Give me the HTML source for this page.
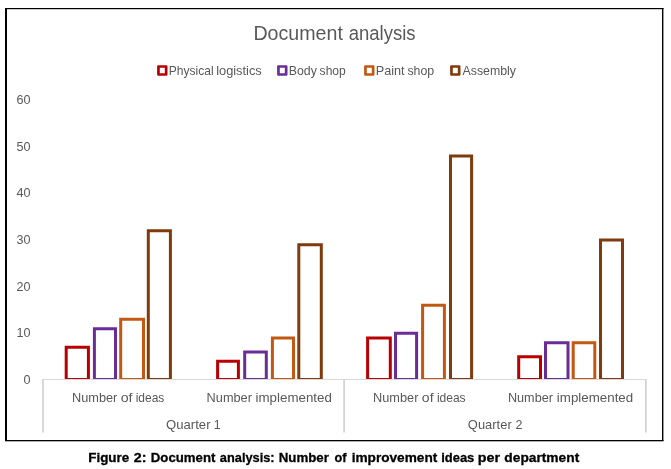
<!DOCTYPE html>
<html><head><meta charset="utf-8"><style>
html,body{margin:0;padding:0;background:#fff;width:671px;height:469px;overflow:hidden}
svg{display:block;will-change:transform;font-family:"Liberation Sans",sans-serif}
</style></head><body>
<svg width="671" height="469" viewBox="0 0 671 469">
<rect x="0" y="0" width="671" height="469" fill="#fff"/>
<!-- frame -->
<rect x="5" y="8" width="2" height="433" fill="#000"/>
<rect x="5" y="8" width="658.5" height="1.2" fill="#000"/>
<rect x="662" y="8" width="1.4" height="433" fill="#000"/>
<rect x="5" y="440" width="658.5" height="1.3" fill="#000"/>
<!-- bars -->
<path fill="#B80000" fill-rule="evenodd" d="M64.70,345.85H89.90V379.0H64.70Z M67.70,348.85V378.0H86.90V348.85Z"/>
<path fill="#6A2D98" fill-rule="evenodd" d="M92.90,327.18H117.00V379.0H92.90Z M95.90,330.18V378.0H114.00V330.18Z"/>
<path fill="#C25811" fill-rule="evenodd" d="M119.20,317.84H145.00V379.0H119.20Z M122.20,320.84V378.0H142.00V320.84Z"/>
<path fill="#803A0C" fill-rule="evenodd" d="M146.80,229.13H171.90V379.0H146.80Z M149.80,232.13V378.0H168.90V232.13Z"/>
<path fill="#B80000" fill-rule="evenodd" d="M216.10,359.86H239.90V379.0H216.10Z M219.10,362.86V378.0H236.90V362.86Z"/>
<path fill="#6A2D98" fill-rule="evenodd" d="M243.20,350.52H267.80V379.0H243.20Z M246.20,353.52V378.0H264.80V353.52Z"/>
<path fill="#C25811" fill-rule="evenodd" d="M270.90,336.51H295.00V379.0H270.90Z M273.90,339.51V378.0H292.00V339.51Z"/>
<path fill="#803A0C" fill-rule="evenodd" d="M297.30,243.13H322.80V379.0H297.30Z M300.30,246.13V378.0H319.80V246.13Z"/>
<path fill="#B80000" fill-rule="evenodd" d="M366.10,336.51H391.80V379.0H366.10Z M369.10,339.51V378.0H388.80V339.51Z"/>
<path fill="#6A2D98" fill-rule="evenodd" d="M394.00,331.85H418.10V379.0H394.00Z M397.00,334.85V378.0H415.10V334.85Z"/>
<path fill="#C25811" fill-rule="evenodd" d="M421.10,303.83H445.90V379.0H421.10Z M424.10,306.83V378.0H442.90V306.83Z"/>
<path fill="#803A0C" fill-rule="evenodd" d="M449.00,154.42H473.10V379.0H449.00Z M452.00,157.42V378.0H470.10V157.42Z"/>
<path fill="#B80000" fill-rule="evenodd" d="M517.20,355.19H542.00V379.0H517.20Z M520.20,358.19V378.0H539.00V358.19Z"/>
<path fill="#6A2D98" fill-rule="evenodd" d="M544.00,341.18H569.50V379.0H544.00Z M547.00,344.18V378.0H566.50V344.18Z"/>
<path fill="#C25811" fill-rule="evenodd" d="M571.70,341.18H596.30V379.0H571.70Z M574.70,344.18V378.0H593.30V344.18Z"/>
<path fill="#803A0C" fill-rule="evenodd" d="M599.00,238.47H624.00V379.0H599.00Z M602.00,241.47V378.0H621.00V241.47Z"/>
<!-- axis -->
<rect x="43" y="379" width="603" height="1" fill="#D9D9D9"/>
<rect x="42.2" y="379" width="1.6" height="53.5" fill="#D0D0D0"/>
<rect x="343.3" y="379" width="1.6" height="53.5" fill="#D0D0D0"/>
<rect x="645.1" y="379" width="1.6" height="53.5" fill="#D0D0D0"/>
<!-- legend -->
<path fill="#B80000" fill-rule="evenodd" d="M158.29999999999998,65.15h8a1.2,1.2 0 0 1 1.2,1.2v8.2a1.2,1.2 0 0 1 -1.2,1.2h-8a1.2,1.2 0 0 1 -1.2,-1.2v-8.2a1.2,1.2 0 0 1 1.2,-1.2Z M159.79999999999998,67.8v5.5h5v-5.5Z"/><path fill="#6A2D98" fill-rule="evenodd" d="M278.3,65.15h8a1.2,1.2 0 0 1 1.2,1.2v8.2a1.2,1.2 0 0 1 -1.2,1.2h-8a1.2,1.2 0 0 1 -1.2,-1.2v-8.2a1.2,1.2 0 0 1 1.2,-1.2Z M279.8,67.8v5.5h5v-5.5Z"/><path fill="#C25811" fill-rule="evenodd" d="M365.3,65.15h8a1.2,1.2 0 0 1 1.2,1.2v8.2a1.2,1.2 0 0 1 -1.2,1.2h-8a1.2,1.2 0 0 1 -1.2,-1.2v-8.2a1.2,1.2 0 0 1 1.2,-1.2Z M366.8,67.8v5.5h5v-5.5Z"/><path fill="#803A0C" fill-rule="evenodd" d="M451.3,65.15h8a1.2,1.2 0 0 1 1.2,1.2v8.2a1.2,1.2 0 0 1 -1.2,1.2h-8a1.2,1.2 0 0 1 -1.2,-1.2v-8.2a1.2,1.2 0 0 1 1.2,-1.2Z M452.8,67.8v5.5h5v-5.5Z"/>
<text x="253.40" y="39.8" font-size="19.7" fill="#595959" textLength="89.46" lengthAdjust="spacingAndGlyphs">Document</text>
<text x="348.66" y="39.8" font-size="19.7" fill="#595959" textLength="66.87" lengthAdjust="spacingAndGlyphs">analysis</text>
<text x="168.82" y="74.5" font-size="12.4" fill="#595959" textLength="44.84" lengthAdjust="spacingAndGlyphs">Physical</text>
<text x="216.17" y="74.5" font-size="12.4" fill="#595959" textLength="45.60" lengthAdjust="spacingAndGlyphs">logistics</text>
<text x="288.75" y="74.5" font-size="12.4" fill="#595959" textLength="28.10" lengthAdjust="spacingAndGlyphs">Body</text>
<text x="319.61" y="74.5" font-size="12.4" fill="#595959" textLength="26.21" lengthAdjust="spacingAndGlyphs">shop</text>
<text x="375.69" y="74.5" font-size="12.4" fill="#595959" textLength="28.92" lengthAdjust="spacingAndGlyphs">Paint</text>
<text x="407.44" y="74.5" font-size="12.4" fill="#595959" textLength="26.78" lengthAdjust="spacingAndGlyphs">shop</text>
<text x="462.47" y="74.5" font-size="12.4" fill="#595959" textLength="53.55" lengthAdjust="spacingAndGlyphs">Assembly</text>
<text x="71.99" y="402.0" font-size="12.4" fill="#595959" textLength="45.34" lengthAdjust="spacingAndGlyphs">Number</text>
<text x="120.70" y="402.0" font-size="12.4" fill="#595959" textLength="11.86" lengthAdjust="spacingAndGlyphs">of</text>
<text x="135.71" y="402.0" font-size="12.4" fill="#595959" textLength="28.66" lengthAdjust="spacingAndGlyphs">ideas</text>
<text x="206.61" y="402.0" font-size="12.4" fill="#595959" textLength="45.29" lengthAdjust="spacingAndGlyphs">Number</text>
<text x="255.56" y="402.0" font-size="12.4" fill="#595959" textLength="76.35" lengthAdjust="spacingAndGlyphs">implemented</text>
<text x="373.04" y="402.0" font-size="12.4" fill="#595959" textLength="45.35" lengthAdjust="spacingAndGlyphs">Number</text>
<text x="421.85" y="402.0" font-size="12.4" fill="#595959" textLength="11.74" lengthAdjust="spacingAndGlyphs">of</text>
<text x="436.89" y="402.0" font-size="12.4" fill="#595959" textLength="28.74" lengthAdjust="spacingAndGlyphs">ideas</text>
<text x="507.92" y="402.0" font-size="12.4" fill="#595959" textLength="45.02" lengthAdjust="spacingAndGlyphs">Number</text>
<text x="556.89" y="402.0" font-size="12.4" fill="#595959" textLength="76.29" lengthAdjust="spacingAndGlyphs">implemented</text>
<text x="166.08" y="429.1" font-size="12.4" fill="#595959" textLength="44.43" lengthAdjust="spacingAndGlyphs">Quarter</text>
<text x="213.85" y="429.1" font-size="12.4" fill="#595959">1</text>
<text x="467.85" y="429.1" font-size="12.4" fill="#595959" textLength="43.88" lengthAdjust="spacingAndGlyphs">Quarter</text>
<text x="515.58" y="429.1" font-size="12.4" fill="#595959">2</text>
<text x="88.22" y="461.7" font-size="13.6" fill="#000" font-weight="bold" stroke="#000" stroke-width="0.3" textLength="40.99" lengthAdjust="spacingAndGlyphs">Figure</text>
<text x="133.81" y="461.7" font-size="13.6" fill="#000" font-weight="bold" stroke="#000" stroke-width="0.3" textLength="12.69" lengthAdjust="spacingAndGlyphs">2:</text>
<text x="150.81" y="461.7" font-size="13.6" fill="#000" font-weight="bold" stroke="#000" stroke-width="0.3" textLength="64.58" lengthAdjust="spacingAndGlyphs">Document</text>
<text x="219.87" y="461.7" font-size="13.6" fill="#000" font-weight="bold" stroke="#000" stroke-width="0.3" textLength="54.70" lengthAdjust="spacingAndGlyphs">analysis:</text>
<text x="278.69" y="461.7" font-size="13.6" fill="#000" font-weight="bold" stroke="#000" stroke-width="0.3" textLength="50.17" lengthAdjust="spacingAndGlyphs">Number</text>
<text x="334.43" y="461.7" font-size="13.6" fill="#000" font-weight="bold" stroke="#000" stroke-width="0.3" textLength="12.03" lengthAdjust="spacingAndGlyphs">of</text>
<text x="351.66" y="461.7" font-size="13.6" fill="#000" font-weight="bold" stroke="#000" stroke-width="0.3" textLength="85.59" lengthAdjust="spacingAndGlyphs">improvement</text>
<text x="441.20" y="461.7" font-size="13.6" fill="#000" font-weight="bold" stroke="#000" stroke-width="0.3" textLength="33.14" lengthAdjust="spacingAndGlyphs">ideas</text>
<text x="477.72" y="461.7" font-size="13.6" fill="#000" font-weight="bold" stroke="#000" stroke-width="0.3" textLength="22.27" lengthAdjust="spacingAndGlyphs">per</text>
<text x="504.33" y="461.7" font-size="13.6" fill="#000" font-weight="bold" stroke="#000" stroke-width="0.3" textLength="74.92" lengthAdjust="spacingAndGlyphs">department</text>
<text x="30.5" y="384.1" font-size="12.6" text-anchor="end" fill="#595959" font-weight="normal">0</text>
<text x="30.5" y="337.43" font-size="12.6" text-anchor="end" fill="#595959" font-weight="normal">10</text>
<text x="30.5" y="290.76" font-size="12.6" text-anchor="end" fill="#595959" font-weight="normal">20</text>
<text x="30.5" y="244.09" font-size="12.6" text-anchor="end" fill="#595959" font-weight="normal">30</text>
<text x="30.5" y="197.42" font-size="12.6" text-anchor="end" fill="#595959" font-weight="normal">40</text>
<text x="30.5" y="150.75" font-size="12.6" text-anchor="end" fill="#595959" font-weight="normal">50</text>
<text x="30.5" y="104.08" font-size="12.6" text-anchor="end" fill="#595959" font-weight="normal">60</text>
</svg>
</body></html>
